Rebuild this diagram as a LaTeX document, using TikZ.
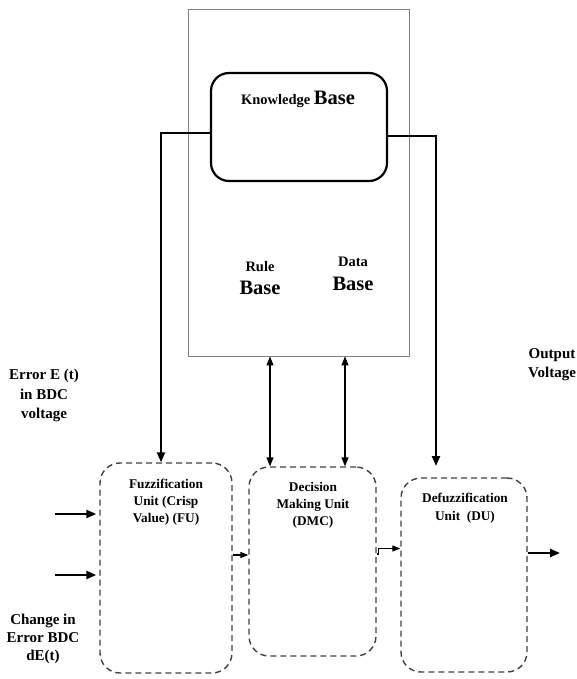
\documentclass[tikz,border=0pt]{standalone}
\usepackage{fontspec}
\setmainfont{Liberation Serif}
\usetikzlibrary{arrows.meta,calc}

\newcommand{\fsz}[1]{\fontsize{#1}{#1}\selectfont}

\tikzset{
  frame/.style={draw=black!50, line width=0.8pt},
  kbbox/.style={draw=black, line width=2.2pt, rounded corners=18pt},
  unitbox/.style={draw=black!75, line width=1.4pt, dash pattern=on 6pt off 4pt, rounded corners=20pt},
  boldtext/.style={align=center, font=\bfseries\fsz{13.3}, inner sep=0pt},
  sidetext/.style={align=center, font=\bfseries\fsz{15}, inner sep=0pt},
  heavy/.style={line width=2.2pt, -{Triangle[length=10pt,width=8pt]}},
  lightdbl/.style={line width=1.1pt, {Triangle[length=9pt,width=7pt]}-{Triangle[length=9pt,width=7pt]}},
  lightarr/.style={line width=1.1pt, -{Triangle[length=8pt,width=6pt]}},
}

\begin{document}
\begin{tikzpicture}[x=1pt,y=-1pt]
\useasboundingbox (0,0) rectangle (577,679);

% knowledge base frame
\node[frame, minimum width=221pt, minimum height=347pt, inner sep=0pt] (outer) at (298.5,182.5) {};
\node[kbbox, minimum width=176pt, minimum height=108pt, inner sep=0pt] (KB) at (299,127) {};
\node[inner sep=0pt, font=\bfseries] (kbt) at (298,99.5) {\fsz{14.5}Knowledge \fsz{20.5}Base};
\node[inner sep=0pt, align=center, font=\bfseries] (rule) at (260,278) {\fsz{14.5}Rule\\[9pt]\fsz{20.5}Base};
\node[inner sep=0pt, align=center, font=\bfseries] (data) at (353,274) {\fsz{14.5}Data\\[9pt]\fsz{20.5}Base};

% processing units
\node[unitbox, minimum width=132pt, minimum height=210pt, inner sep=0pt] (FU) at (166,568) {};
\node[unitbox, minimum width=127pt, minimum height=189pt, inner sep=0pt] (DMC) at (312.5,561.5) {};
\node[unitbox, minimum width=126pt, minimum height=194pt, inner sep=0pt] (DU) at (464,575) {};

\node[boldtext] (fut) at (166,502.5) {Fuzzification\\[3.5pt]Unit (Crisp\\[3.5pt]Value) (FU)};
\node[boldtext] (dmct) at (313,505) {Decision\\[3.5pt]Making Unit\\[3.5pt](DMC)};
\node[boldtext] (dut) at (465,508) {Defuzzification\\[5pt]Unit\ \ (DU)};

% side labels
\node[sidetext] (err) at (44,395.5) {Error E (t)\\[4.5pt]in BDC\\[4.5pt]voltage};
\node[sidetext] (chg) at (43,638.5) {Change in\\[3pt]Error BDC\\[3pt]dE(t)};
\node[sidetext] (outv) at (552,365) {Output\\[4pt]Voltage};

% helper points
\coordinate (in1) at (55,514);
\coordinate (in2) at (55,575);
\coordinate (m1) at (0,555);
\coordinate (m2) at (0,548.5);
\coordinate (m3) at (0,554);
\coordinate (o1) at (560,553);
\coordinate (d1) at (270,0);
\coordinate (d2) at (345,0);
\coordinate (c1) at (161,0);
\coordinate (c2) at (436,466);

% knowledge base feeds
\draw[heavy] ([yshift=-6pt]KB.west) -| (c1 |- FU.north);
\draw[heavy] ([yshift=-9pt]KB.east) -| (c2);

% rule / data base exchanges
\draw[lightdbl] (outer.south -| d1) -- (DMC.north -| d1);
\draw[lightdbl] (outer.south -| d2) -- (DMC.north -| d2);

% inputs
\draw[heavy] (in1) -- ([xshift=-3pt]FU.west |- in1);
\draw[heavy] (in2) -- ([xshift=-3pt]FU.west |- in2);

% unit chain
\draw[lightarr] (FU.east |- m1) -- (DMC.west |- m1);
\draw[lightarr] (DMC.east |- m3) -- ++(1.5,0) |- (DU.west |- m2);
\draw[heavy] (DU.east |- o1) -- (o1);
\end{tikzpicture}
\end{document}
